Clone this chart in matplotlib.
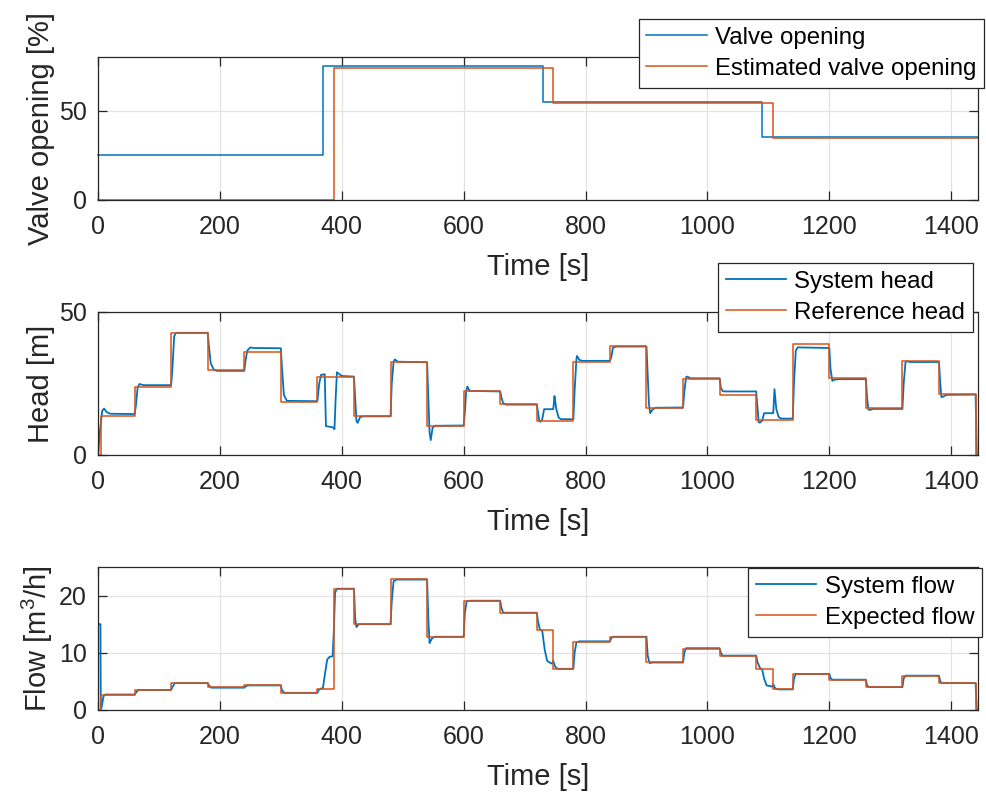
import matplotlib
matplotlib.use("Agg")
import matplotlib.pyplot as plt

# ---------------------------------------------------------------- data
# Valve opening [%] (step signals: value holds from each time to the next)
valve_t = [0, 370, 730, 1090, 1444]
valve_pct = [25, 75, 55, 35, 35]
valve_est_t = [0, 387, 747, 1107, 1444]
valve_est_pct = [0, 73.8, 54.5, 34.6, 34.6]

# Reference head [m] (step signal)
head_ref_t = [0, 5, 60, 120, 180, 240, 300, 360, 420, 480, 540, 600, 660, 720,
              780, 840, 900, 960, 1020, 1080, 1140, 1200, 1260, 1320, 1380,
              1440, 1444]
head_ref_m = [0, 13.5, 23.7, 42.7, 29.7, 36.1, 18.4, 27.3, 13.6, 32.4, 10.1,
              22.3, 17.7, 12.0, 32.6, 38.2, 16.3, 26.7, 21.1, 12.2, 38.7, 26.9,
              16.3, 32.9, 21.2, 0, 0]

# Measured system head [m]
head_sys_t = [0, 3, 7, 10, 14, 20, 60,
              62, 65, 68, 75, 120,
              122, 125, 128, 180,
              182, 185, 190, 195, 240,
              242, 245, 250, 255, 300,
              302, 305, 310, 360,
              363, 366, 372, 374, 386, 388, 390, 392, 400, 420,
              422, 424, 426, 430, 435, 480,
              482, 485, 487, 492, 540,
              542, 544, 546, 549, 553, 600,
              602, 604, 606, 610, 660,
              662, 665, 670, 720,
              722, 724, 726, 729, 732, 747, 748, 749, 752, 756, 760, 780,
              782, 785, 786, 790, 795, 840,
              842, 845, 850, 900,
              902, 904, 906, 910, 915, 960,
              962, 965, 967, 972, 1020,
              1022, 1025, 1030, 1080,
              1082, 1084, 1086, 1090, 1093, 1108, 1109, 1110, 1113, 1117,
              1122, 1140,
              1142, 1145, 1148, 1200,
              1202, 1205, 1208, 1215, 1260,
              1262, 1264, 1266, 1272, 1320,
              1322, 1325, 1327, 1332, 1380,
              1382, 1384, 1387, 1392, 1440, 1442, 1444]
head_sys_m = [0, 8, 15.5, 16.2, 15.0, 14.4, 14.3,
              17, 23.5, 24.8, 24.4, 24.4,
              30, 41.5, 42.7, 42.7,
              38, 32, 29.8, 29.4, 29.4,
              33, 36.5, 37.6, 37.4, 37.3,
              30, 21, 18.9, 18.8,
              25, 28.0, 28.2, 10.1, 9.6, 9.0, 20, 28.9, 27.6, 27.4,
              20, 12, 11.2, 13.2, 13.5, 13.5,
              25, 32.5, 33.4, 32.6, 32.4,
              20, 8, 5.2, 9.5, 10.2, 10.3,
              15, 22, 23.9, 22.4, 22.2,
              20, 18.0, 17.6, 17.6,
              15, 12.0, 11.6, 12.5, 16.0, 16.0, 18, 20.6, 16, 13, 12.5, 12.5,
              22, 33.5, 34.6, 33.2, 32.9, 32.9,
              34, 37.5, 37.9, 37.9,
              28, 18, 14.6, 15.9, 16.5, 16.6,
              22, 27.2, 27.4, 26.8, 26.8,
              23.5, 22.3, 22.2, 22.2,
              17, 11.5, 11.3, 12.0, 14.6, 14.6, 19, 23.0, 16, 13.2,
              12.7, 12.7,
              25, 36.5, 37.6, 37.4,
              30, 25.9, 26.3, 26.5, 26.5,
              20, 16.0, 15.7, 16.1, 16.1,
              25, 32.4, 32.8, 32.5, 32.5,
              25, 20.2, 20.4, 21.0, 21.1, 0, 0]

# Expected flow [m^3/h] (step signal)
flow_exp_t = [0, 5, 60, 120, 180, 240, 300, 360, 387, 420, 480, 540, 600, 660,
              720, 747, 780, 840, 900, 960, 1020, 1080, 1107, 1140, 1200, 1260,
              1320, 1380, 1440, 1444]
flow_exp_q = [0, 2.6, 3.5, 4.7, 4.0, 4.3, 3.0, 3.75, 21.1, 15.0, 22.9, 12.75,
              19.1, 17.0, 14.0, 7.15, 11.8, 12.8, 8.4, 10.7, 9.5, 7.2, 3.6, 6.3,
              5.3, 4.0, 5.9, 4.7, 0, 0]

# Measured system flow [m^3/h]
flow_sys_t = [0, 4, 4.5, 6, 9, 12, 60,
              62, 66, 120,
              122, 126, 180,
              182, 186, 240,
              242, 246, 300,
              302, 306, 360,
              362, 366, 369, 372, 376, 380, 385, 387, 389, 392, 420,
              422, 424, 428, 480,
              482, 485, 490, 540,
              542, 544, 548, 552, 600,
              602, 605, 610, 660,
              662, 665, 720,
              722, 725, 729, 733, 737, 741, 745, 747, 750, 754, 780,
              782, 785, 790, 840,
              842, 845, 900,
              902, 905, 910, 960,
              962, 965, 1020,
              1022, 1025, 1080,
              1082, 1086, 1090, 1093, 1097, 1106, 1108, 1111, 1116, 1140,
              1142, 1145, 1200,
              1202, 1205, 1260,
              1262, 1265, 1320,
              1322, 1325, 1380,
              1382, 1385, 1440, 1442, 1444]
flow_sys_q = [15.0, 15.0, 0, 0.5, 2.4, 2.7, 2.7,
              3.0, 3.5, 3.5,
              4.0, 4.7, 4.7,
              4.3, 3.9, 3.9,
              4.1, 4.3, 4.3,
              3.4, 3.0, 3.0,
              3.5, 3.75, 3.8, 6.0, 8.8, 9.3, 9.4, 14, 20.5, 21.2, 21.2,
              16, 14.5, 15.0, 15.0,
              19, 22.5, 22.8, 22.8,
              16, 11.7, 12.5, 12.8, 12.8,
              17, 19.0, 19.1, 19.1,
              17.8, 17.0, 17.0,
              15.5, 14.1, 13.8, 10.5, 8.6, 8.3, 8.1, 8.6, 7.6, 7.2, 7.2,
              10, 11.8, 12.0, 12.0,
              12.5, 12.8, 12.8,
              9.5, 8.2, 8.3, 8.3,
              10, 10.8, 10.8,
              10, 9.5, 9.5,
              8.4, 7.4, 7.0, 5.5, 4.3, 4.1, 4.5, 3.8, 3.6, 3.6,
              5.5, 6.3, 6.3,
              5.6, 5.3, 5.3,
              4.3, 4.0, 4.0,
              5.5, 6.0, 6.0,
              5.0, 4.7, 4.7, 0, 0]

time_ticks = [0, 200, 400, 600, 800, 1000, 1200, 1400]

# ---------------------------------------------------------------- style
BLUE = "#0072BD"
ORANGE = "#D95319"
INK = "#262626"

plt.rcParams["font.family"] = ["Liberation Sans", "DejaVu Sans"]
plt.rcParams["mathtext.fontset"] = "custom"
plt.rcParams["mathtext.rm"] = "Liberation Sans"
plt.rcParams["mathtext.default"] = "regular"

fig = plt.figure(figsize=(9.86, 7.99), dpi=100)
fig.patch.set_facecolor("white")

left, width, height = 0.0994, 0.8925, 0.179
ax_valve = fig.add_axes([left, 0.7497, width, height])
ax_head = fig.add_axes([left, 0.4306, width, height])
ax_flow = fig.add_axes([left, 0.1114, width, height])


def style_axes(ax, ylabel, ylim, yticks):
    ax.set_xlim(0, 1444)
    ax.set_ylim(*ylim)
    ax.set_xticks(time_ticks)
    ax.set_yticks(yticks)
    ax.grid(True, color="#e3e3e3", linewidth=0.9)
    ax.set_axisbelow(True)
    for sp in ax.spines.values():
        sp.set_color(INK)
        sp.set_linewidth(0.9)
    ax.tick_params(direction="in", length=6.5, width=0.9, color=INK,
                   labelsize=18, labelcolor=INK, top=True, right=True)
    ax.tick_params(axis="x", pad=11)
    ax.tick_params(axis="y", pad=8)
    ax.set_xlabel("Time [s]", fontsize=21, color=INK, labelpad=10)
    ax.set_ylabel(ylabel, fontsize=21, color=INK, labelpad=3)


def add_legend(ax, anchor):
    leg = ax.legend(loc="upper right", bbox_to_anchor=anchor,
                    bbox_transform=fig.transFigure, fontsize=17.3,
                    frameon=True, fancybox=False, framealpha=1,
                    edgecolor=INK, borderpad=0.32, borderaxespad=0,
                    handlelength=2.5, handletextpad=0.35, labelspacing=0.38)
    leg.get_frame().set_linewidth(0.9)
    leg.set_zorder(10)
    return leg


# Valve opening
ax_valve.plot(valve_t, valve_pct, drawstyle="steps-post", color=BLUE,
              linewidth=1.1, label="Valve opening", clip_on=False)
ax_valve.plot(valve_est_t, valve_est_pct, drawstyle="steps-post",
              color=ORANGE, linewidth=1.1, label="Estimated valve opening",
              clip_on=False)
style_axes(ax_valve, "Valve opening [%]", (0, 80), [0, 50])
add_legend(ax_valve, (0.998, 0.9762))

# Head
ax_head.plot(head_sys_t, head_sys_m, color=BLUE, linewidth=1.3,
             label="System head")
ax_head.plot(head_ref_t, head_ref_m, drawstyle="steps-post", color=ORANGE,
             linewidth=1.1, label="Reference head")
style_axes(ax_head, "Head [m]", (0, 50), [0, 50])
add_legend(ax_head, (0.9868, 0.6708))

# Flow
ax_flow.plot(flow_sys_t, flow_sys_q, color=BLUE, linewidth=1.3,
             label="System flow")
ax_flow.plot(flow_exp_t, flow_exp_q, drawstyle="steps-post", color=ORANGE,
             linewidth=1.1, label="Expected flow")
style_axes(ax_flow, r"Flow [m$^3$/h]", (0, 25), [0, 10, 20])
add_legend(ax_flow, (0.9959, 0.2891))

fig.savefig("out.png", dpi=100, facecolor="white")
